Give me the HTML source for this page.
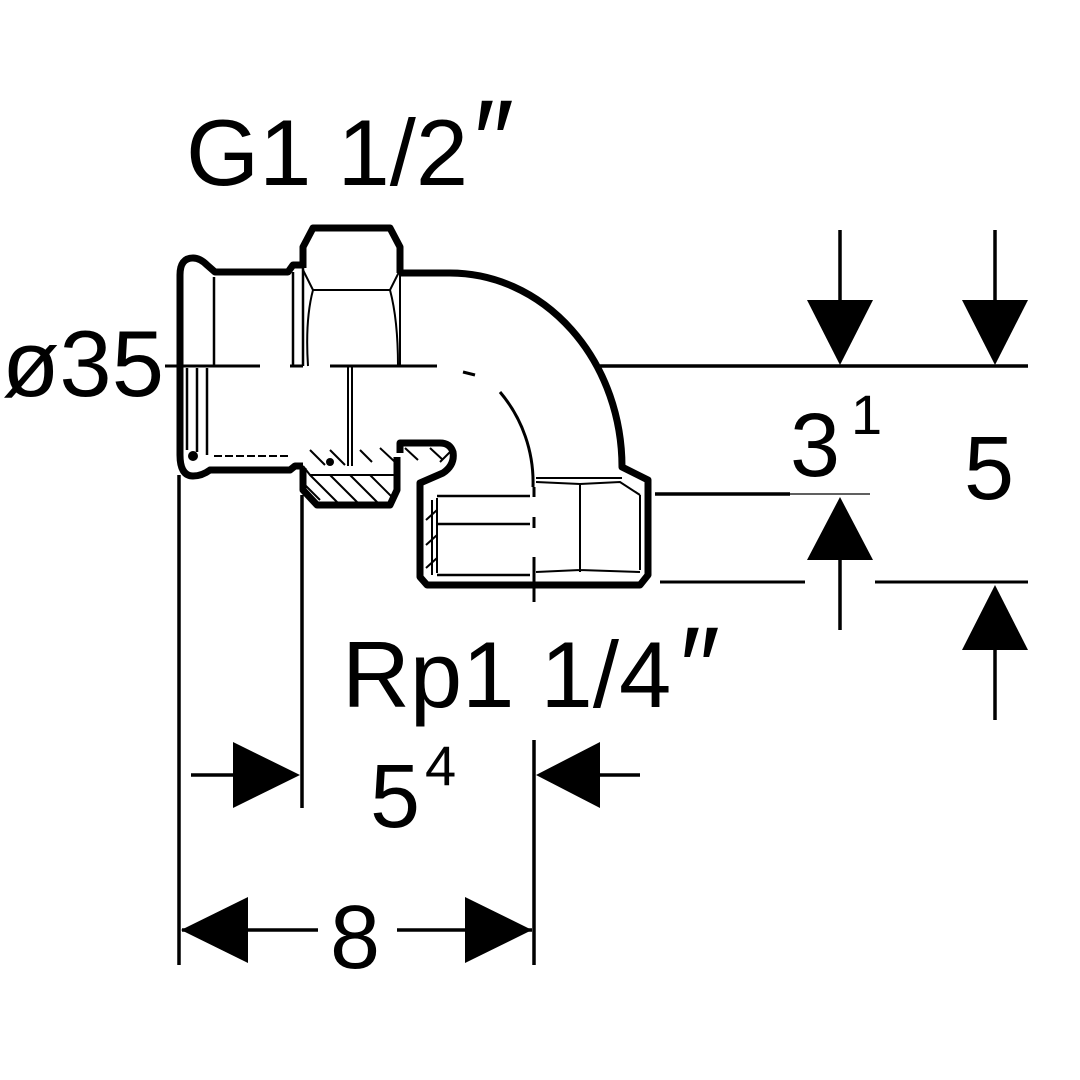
<!DOCTYPE html>
<html><head><meta charset="utf-8"><style>html,body{margin:0;padding:0;background:#fff}svg{display:block}</style></head>
<body>
<svg width="1080" height="1080" viewBox="0 0 1080 1080" xmlns="http://www.w3.org/2000/svg" font-family="Liberation Sans, sans-serif">
<rect width="1080" height="1080" fill="#fff"/>
<text x="186" y="185" font-size="94">G1 1/2</text>
<text x="468" y="180" font-size="115" font-style="italic">″</text>
<text x="342" y="707" font-size="94">Rp1 1/4</text>
<text x="674" y="707" font-size="115" font-style="italic">″</text>
<text x="2" y="396" font-size="94">ø35</text>
<text x="790" y="476" font-size="90">3</text>
<text x="851" y="434" font-size="56">1</text>
<text x="964" y="499" font-size="90">5</text>
<text x="370" y="827" font-size="90">5</text>
<text x="425" y="785" font-size="56">4</text>
<text x="330" y="968" font-size="90">8</text>

<g stroke="#000" fill="none">
<path d="M165 366H260M290 366H303M330 366H437" stroke-width="3"/>
<path d="M463 372L475 375" stroke-width="3"/>
<path d="M500 392A140 140 0 0 1 533 487" stroke-width="3"/>
<path d="M534 487V497M534 517V528M534 557V602" stroke-width="3"/>
<path d="M600 366H1028" stroke-width="3.5"/>
<path d="M655 494H790" stroke-width="3.5"/>
<path d="M790 494H870" stroke-width="1.2"/>
<path d="M660 582H805M875 582H1028" stroke-width="3"/>
<path d="M840 230V300M995 230V300M840 560V630M995 650V720" stroke-width="3.5"/>
<path d="M179 475V965M302 495V808M534 740V965" stroke-width="3.5"/>
<path d="M191 775H235M600 775H640M182 930H318M397 930H532" stroke-width="3.5"/>

<path d="M180 455V275Q180 258 193 258Q200 258 207 265L215 272H288L293 265H303" stroke-width="7" stroke-linejoin="round"/>
<path d="M180 455Q180 476 193 476Q202 476 210 470H290L295 466H303" stroke-width="7" stroke-linejoin="round"/>
<path d="M214 277V366M187 368V450M197 368V452M207 368V455" stroke-width="2.5"/>
<path d="M214 456H290" stroke-width="2" stroke-dasharray="8 3"/>
<circle cx="193" cy="456" r="5" fill="#000" stroke="none"/>
<path d="M293 272V366M303 268V366M303 468V475" stroke-width="2.5"/>
<path d="M303 268V247L313 228H390L400 247V273" stroke-width="7" stroke-linejoin="round"/>
<path d="M303 270L313 290H390L400 270M313 290Q305 320 308 366M390 290Q398 320 398 366M400 273V366" stroke-width="2"/>
<path d="M348 366V466M352 366V466" stroke-width="2"/>
<path d="M400 273H450A172 194 0 0 1 622 467L648 480V575L640 585H427L420 577V483L443 473Q455 465 453 452Q450 443 440 443H400V453" stroke-width="7" stroke-linejoin="round"/>
<path d="M303 468V490L317 505H390L397 490V457" stroke-width="7" stroke-linejoin="round"/>
<path d="M303 466L310 475H395" stroke-width="2"/>
<path d="M310 475L340 505M330 475L360 505M350 475L380 505M370 475L395 500M305 485L320 500M310 450L325 465M330 450L345 465M360 450L372 462M380 448L395 462M405 448L418 460M430 448L443 460" stroke-width="2"/>
<circle cx="330" cy="462" r="4" fill="#000" stroke="none"/>
<path d="M437 498V573M432 500V575" stroke-width="2"/>
<path d="M426 520L437 510M426 545L437 535M426 568L437 558M440 462L450 452" stroke-width="2"/>
<path d="M437 496H530M437 524H530M437 575H530" stroke-width="2.5"/>
<path d="M536 478H622M536 482L580 484L620 482L640 495M580 484V572M536 572L580 570L640 572" stroke-width="2"/>
<path d="M640 495V570" stroke-width="2"/>
</g>
<g fill="#000">
<polygon points="807,300 873,300 840,365"/>
<polygon points="962,300 1028,300 995,365"/>
<polygon points="807,560 873,560 840,497"/>
<polygon points="962,650 1028,650 995,585"/>
<polygon points="233,742 233,808 300,775"/>
<polygon points="600,742 600,808 536,775"/>
<polygon points="181,930 248,897 248,963"/>
<polygon points="465,897 465,963 532,930"/>
</g>
</svg>
</body></html>
